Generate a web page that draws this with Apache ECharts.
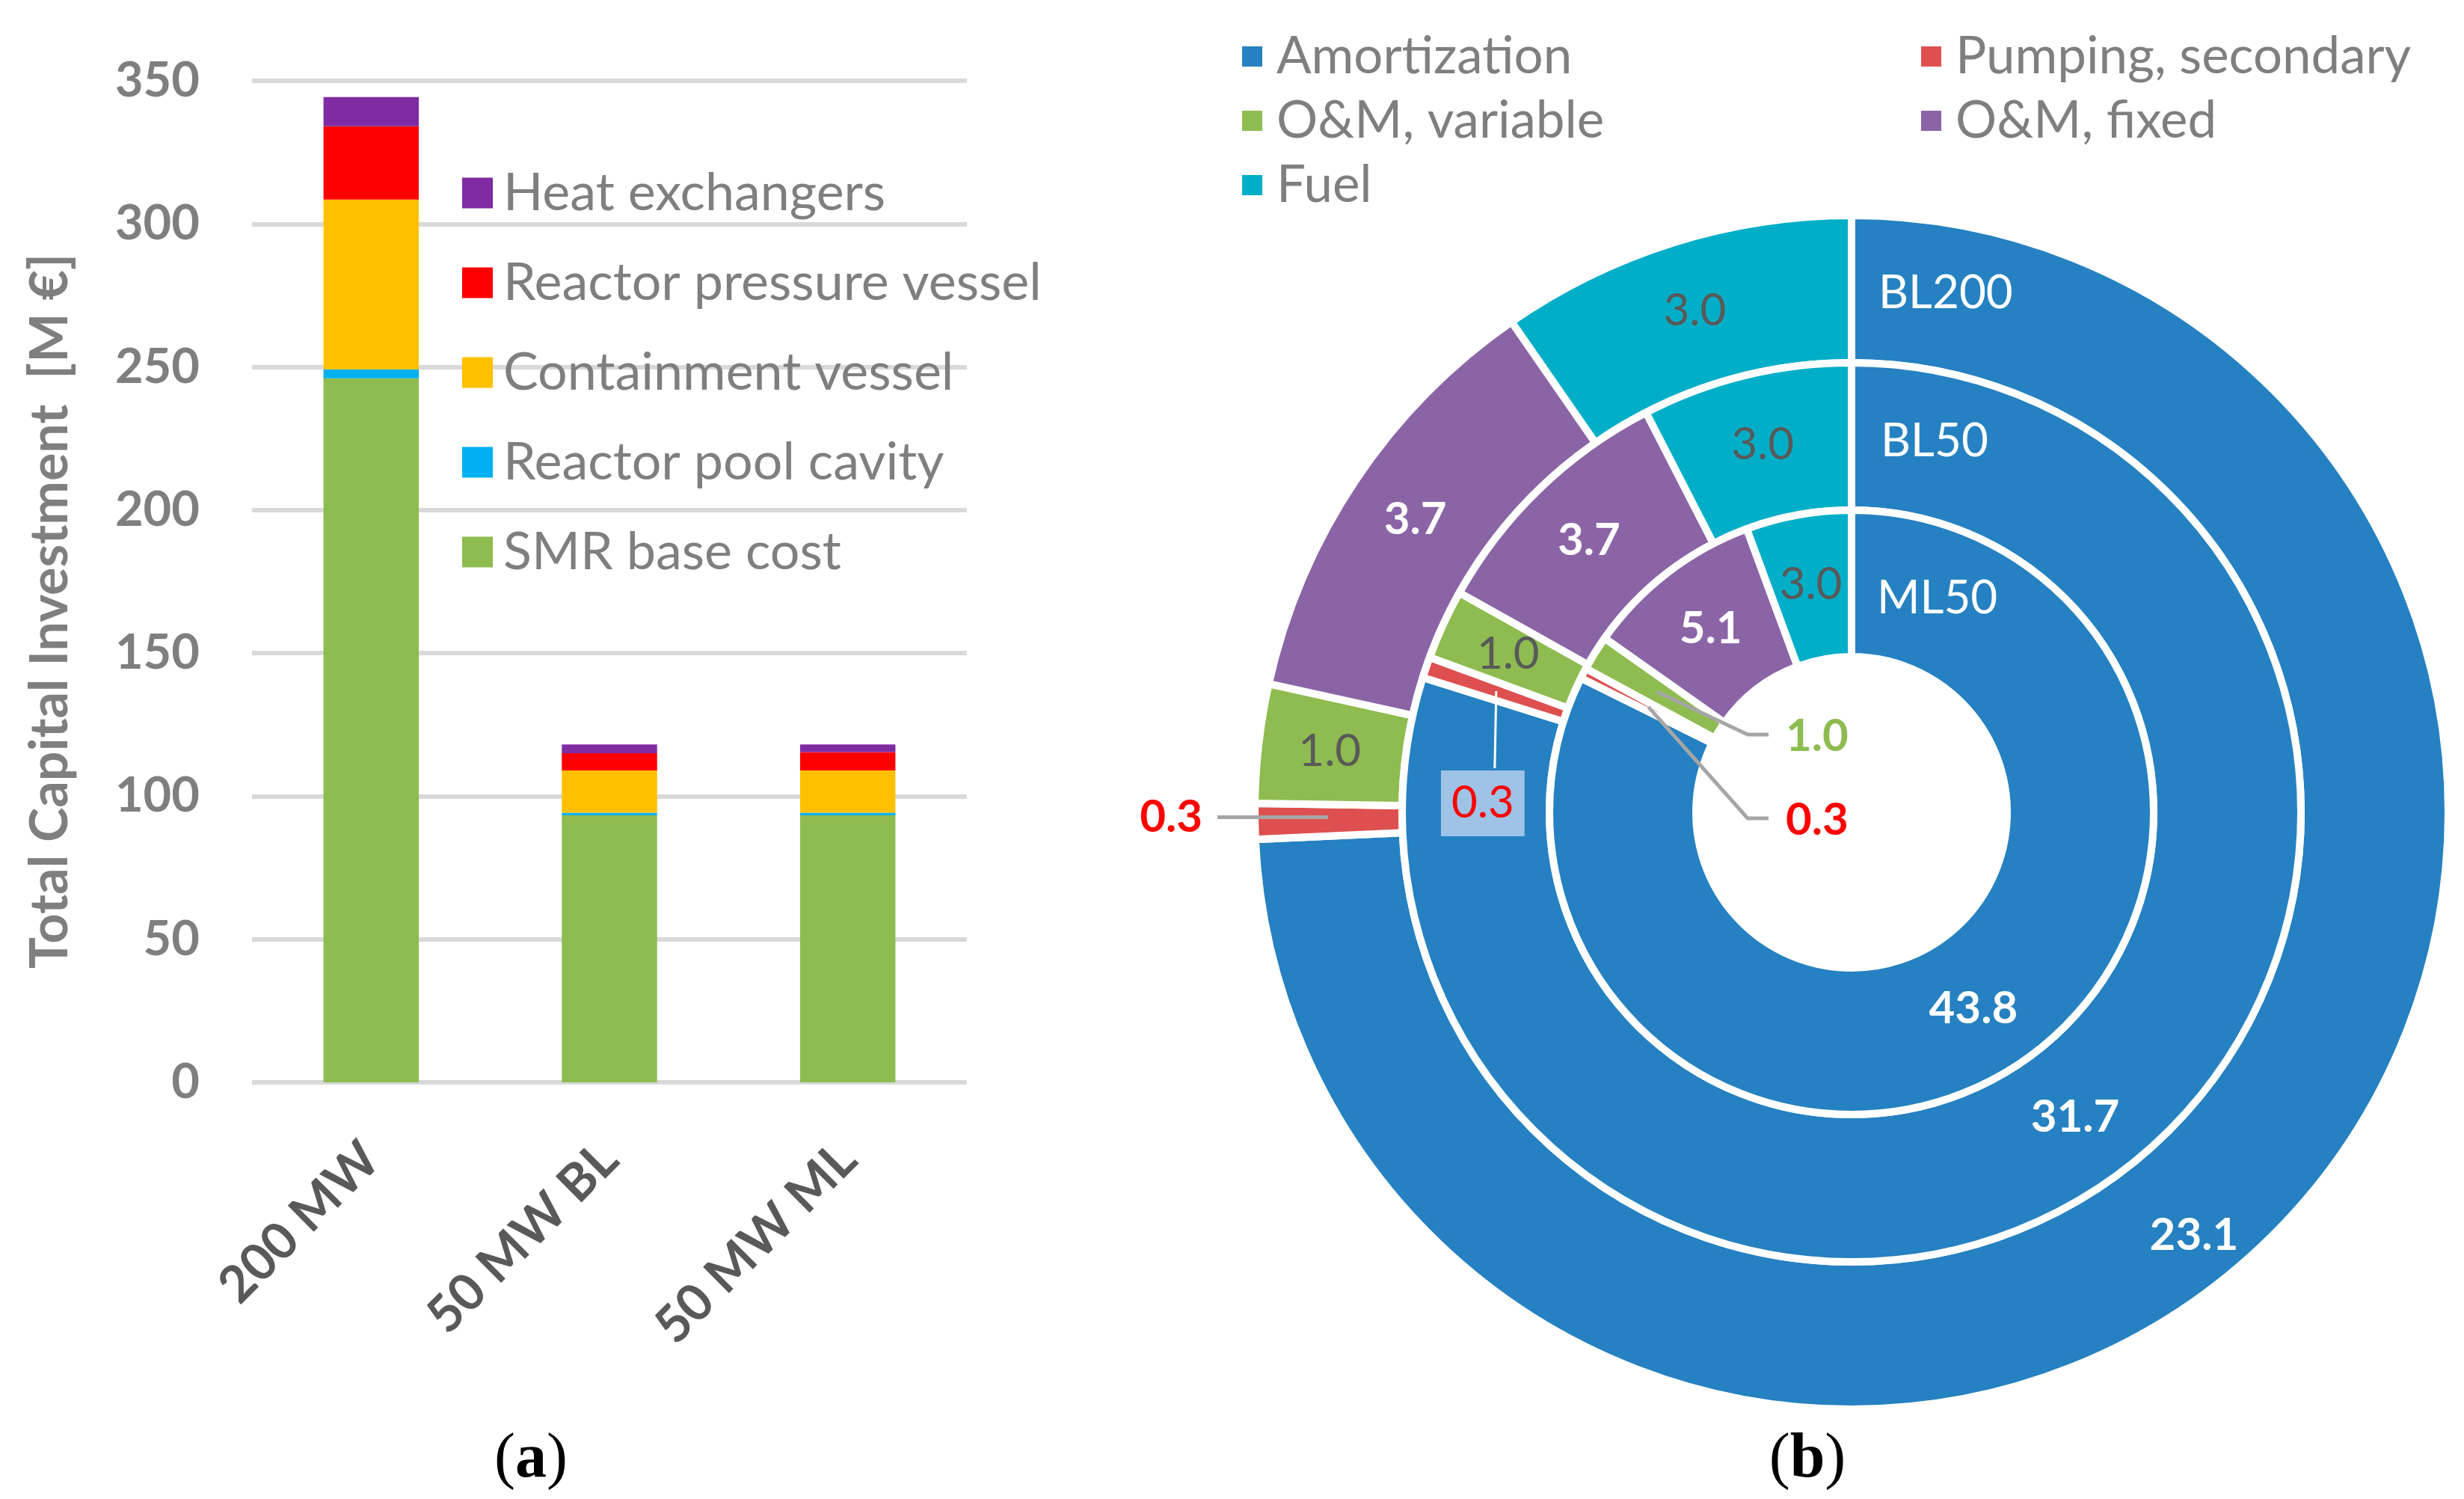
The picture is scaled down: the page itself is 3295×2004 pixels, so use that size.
<!DOCTYPE html>
<html>
<head>
<meta charset="utf-8">
<script src="https://cdn.jsdelivr.net/npm/echarts@6/dist/echarts.min.js"></script>
<style>html,body{margin:0;padding:0;background:#fff;}#c{width:3295px;height:2004px;}</style>
</head>
<body>
<div id="c"></div>
<script>
// ---------- data ----------
const barCategories = ['200 MW', '50 MW BL', '50 MW ML'];
const smrBase     = [246.0, 93.3, 93.3];
const poolCavity  = [3.2, 0.9, 0.9];
const containment = [59.3, 14.8, 14.8];
const pressureVessel = [25.6, 6.0, 6.4];
const heatExchangers = [10.2, 3.1, 2.7];

const costCategories = ['Amortization', 'Pumping, secondary', 'O&M, variable', 'O&M, fixed', 'Fuel'];
const ringNames = ['BL200', 'BL50', 'ML50'];
const bl200 = [23.1, 0.3, 1.0, 3.7, 3.0];
const bl50  = [31.7, 0.3, 1.0, 3.7, 3.0];
const ml50  = [43.8, 0.3, 1.0, 5.1, 3.0];

// ---------- styles / layout ----------
const FONT = 'Lato';
const barColors = { smr: '#8EBC50', pool: '#00B0F0', cont: '#FFC000', rpv: '#FF0000', hx: '#7F2CA3' };
const pieColors = ['#2581C1', '#DE5050', '#8EBC50', '#8B64A6', '#00AEC7'];
const CX = 2476, CY = 1086;
const rings = [[601, 798], [404, 601], [208, 404]];

function slicePoint(values, idx, r) {
  const total = values.reduce((a, b) => a + b, 0);
  let start = 0;
  for (let k = 0; k < idx; k++) start += values[k];
  const a = (start + values[idx] / 2) / total * Math.PI * 2;
  return [CX + r * Math.sin(a), CY - r * Math.cos(a)];
}

// leader-line anchors (mid-radius, mid-angle of the slice)
const aOuterPump = slicePoint(bl200, 1, 700);
const aMidPump   = slicePoint(bl50, 1, 502);
const aInnerVar  = slicePoint(ml50, 2, 306);
const aInnerPump = slicePoint(ml50, 1, 306);
const yOuterPump = aOuterPump[1] - 4;

const whiteBold = { show: true, position: 'inside', color: '#ffffff', fontWeight: 'bold', fontSize: 60, fontFamily: FONT };
const grayNorm  = { show: true, position: 'inside', color: '#595959', fontWeight: 'normal', fontSize: 60, fontFamily: FONT };

function labelFor(ring, i) {
  if (i === 0 || i === 3) return whiteBold;
  if (i === 4) return grayNorm;
  if (i === 2) {
    if (ring === 2) return { show: true, position: 'outside', color: '#8EBC50', fontWeight: 'bold', fontSize: 60, fontFamily: FONT };
    return grayNorm;
  }
  // pumping
  if (ring === 1) return { show: true, position: 'outside', color: '#FF0000', fontWeight: 'normal', fontSize: 60, fontFamily: FONT,
                           backgroundColor: '#9fc3e6', padding: [16, 14, 12, 14] };
  return { show: true, position: 'outside', color: '#FF0000', fontWeight: 'bold', fontSize: 60, fontFamily: FONT };
}
function ringData(values, ring) {
  return values.map((v, i) => ({
    name: costCategories[i], value: v,
    itemStyle: { color: pieColors[i] },
    label: labelFor(ring, i),
    labelLine: { show: false }
  }));
}
const layouts = [
  function (p) {
    const i = p.dataIndex;
    if (i === 0) return { dx: -50, dy: 80 };
    if (i === 1) return { x: 1608, y: yOuterPump, align: 'right', verticalAlign: 'middle' };
  },
  function (p) {
    if (p.dataIndex === 1) return { x: aMidPump[0] - 18, y: aMidPump[1] + 150, align: 'center', verticalAlign: 'middle' };
  },
  function (p) {
    const i = p.dataIndex;
    if (i === 2) return { x: 2388, y: 985, align: 'left', verticalAlign: 'middle' };
    if (i === 1) return { x: 2388, y: 1097, align: 'left', verticalAlign: 'middle' };
  }
];
const ringValues = [bl200, bl50, ml50];
const pieSeries = ringValues.map((vals, r) => ({
  type: 'pie', name: ringNames[r],
  center: [CX, CY], radius: rings[r],
  startAngle: 90, clockwise: true,
  avoidLabelOverlap: false,
  silent: true, animation: false,
  itemStyle: { borderColor: '#ffffff', borderWidth: 10 },
  label: { formatter: p => p.value.toFixed(1) },
  labelLine: { show: false },
  labelLayout: layouts[r],
  data: ringData(vals, r)
}));

function barSeries(name, vals, color) {
  return { type: 'bar', name: name, stack: 'total', data: vals, barWidth: '40%',
           itemStyle: { color: color }, xAxisIndex: 0, yAxisIndex: 0, animation: false };
}

const leaderGray = { stroke: '#A6A6A6', lineWidth: 5, fill: null };
const option = {
  backgroundColor: '#ffffff',
  animation: false,
  grid: { left: 337, top: 108, width: 956, height: 1339, containLabel: false },
  xAxis: {
    type: 'category', data: barCategories,
    axisLine: { show: false }, axisTick: { show: false },
    axisLabel: { rotate: 45, fontSize: 68, fontWeight: 'bold', color: '#595959', fontFamily: FONT, margin: 92 }
  },
  yAxis: {
    type: 'value', min: 0, max: 350, interval: 50,
    axisLine: { show: false }, axisTick: { show: false },
    axisLabel: { fontSize: 65, fontWeight: 'bold', color: '#7F7F7F', fontFamily: FONT, margin: 70 },
    splitLine: { lineStyle: { color: '#D9D9D9', width: 6 } }
  },
  legend: [
    { orient: 'vertical', left: 613, top: 218, itemWidth: 41, itemHeight: 41, itemGap: 50, icon: 'rect',
      selectedMode: false,
      data: ['Heat exchangers', 'Reactor pressure vessel', 'Containment vessel', 'Reactor pool cavity', 'SMR base cost'],
      textStyle: { color: '#7F7F7F', fontSize: 70, fontFamily: FONT, lineHeight: 70, padding: [0, 0, 0, 9] } },
    { orient: 'vertical', left: 1654, top: 36, itemWidth: 29, itemHeight: 29, itemGap: 17, icon: 'rect',
      selectedMode: false,
      data: [costCategories[0], costCategories[2], costCategories[4]],
      textStyle: { color: '#7F7F7F', fontSize: 69, fontFamily: FONT, lineHeight: 69, padding: [0, 0, 0, 13] } },
    { orient: 'vertical', left: 2562, top: 36, itemWidth: 29, itemHeight: 29, itemGap: 17, icon: 'rect',
      selectedMode: false,
      data: [costCategories[1], costCategories[3]],
      textStyle: { color: '#7F7F7F', fontSize: 69, fontFamily: FONT, lineHeight: 69, padding: [0, 0, 0, 13] } }
  ],
  series: [
    barSeries('SMR base cost', smrBase, barColors.smr),
    barSeries('Reactor pool cavity', poolCavity, barColors.pool),
    barSeries('Containment vessel', containment, barColors.cont),
    barSeries('Reactor pressure vessel', pressureVessel, barColors.rpv),
    barSeries('Heat exchangers', heatExchangers, barColors.hx)
  ].concat(pieSeries),
  graphic: [
    { type: 'text', x: 67, y: 817, rotation: Math.PI / 2,
      style: { text: 'Total Capital Investment  [M €]', fill: '#7F7F7F', font: 'bold 70px ' + FONT,
               textAlign: 'center', textVerticalAlign: 'middle' } },
    { type: 'text', x: 710, y: 1952,
      style: { text: '{p|(}{b|a}{p|)}', textAlign: 'center', textVerticalAlign: 'middle',
               rich: { p: { fontFamily: 'Liberation Serif', fontSize: 84, fill: '#000' },
                       b: { fontFamily: 'Liberation Serif', fontSize: 84, fontWeight: 'bold', fill: '#000' } } } },
    { type: 'text', x: 2417, y: 1952,
      style: { text: '{p|(}{b|b}{p|)}', textAlign: 'center', textVerticalAlign: 'middle',
               rich: { p: { fontFamily: 'Liberation Serif', fontSize: 84, fill: '#000' },
                       b: { fontFamily: 'Liberation Serif', fontSize: 84, fontWeight: 'bold', fill: '#000' } } } },
    { type: 'text', x: 2512, y: 392, z: 100,
      style: { text: ringNames[0], fill: '#ffffff', font: '62px ' + FONT, textVerticalAlign: 'middle' } },
    { type: 'text', x: 2515, y: 590, z: 100,
      style: { text: ringNames[1], fill: '#ffffff', font: '62px ' + FONT, textVerticalAlign: 'middle' } },
    { type: 'text', x: 2510, y: 800, z: 100,
      style: { text: ringNames[2], fill: '#ffffff', font: '62px ' + FONT, textVerticalAlign: 'middle' } },
    // leader lines
    { type: 'polyline', z: 100, shape: { points: [[aOuterPump[0], yOuterPump], [1628, yOuterPump]] }, style: leaderGray },
    { type: 'polyline', z: 100, shape: { points: [aMidPump, [aMidPump[0] - 2, aMidPump[1] + 103]] },
      style: { stroke: '#ffffff', lineWidth: 3, fill: null } },
    { type: 'polyline', z: 100, shape: { points: [aInnerVar, [2337, 982], [2365, 982]] }, style: leaderGray },
    { type: 'polyline', z: 100, shape: { points: [aInnerPump, [2337, 1094], [2365, 1094]] }, style: leaderGray }
  ]
};
const chart = echarts.init(document.getElementById('c'), null, { renderer: 'canvas' });
chart.setOption(option);
</script>
</body>
</html>
